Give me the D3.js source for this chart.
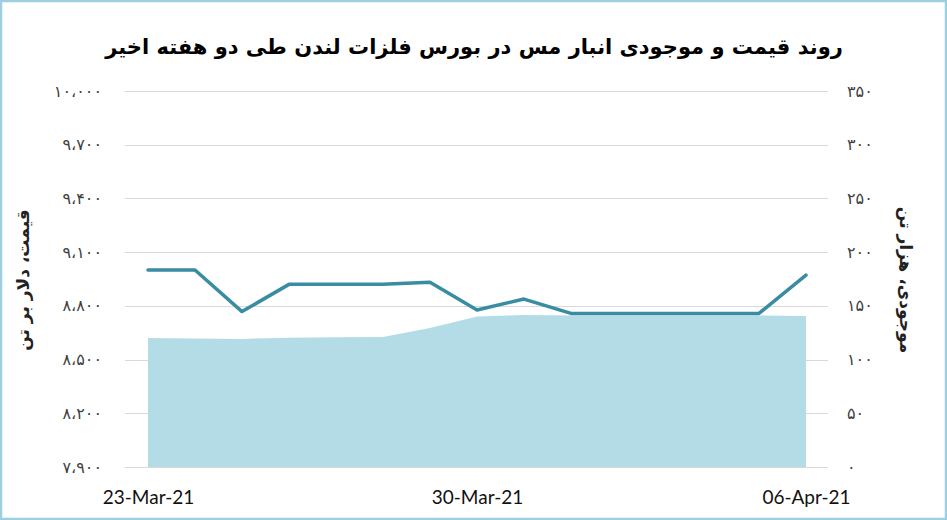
<!DOCTYPE html>
<html>
<head>
<meta charset="utf-8">
<script src="https://cdn.jsdelivr.net/npm/d3@7"></script>
<style>
  body { margin: 0; background: #fff; }
  svg { display: block; }
</style>
</head>
<body>
<div id="chart"></div>
<script>
// data
const dates = ['23-Mar-21', '24-Mar-21', '25-Mar-21', '26-Mar-21', '27-Mar-21', '28-Mar-21', '29-Mar-21',
  '30-Mar-21', '31-Mar-21', '01-Apr-21', '02-Apr-21', '03-Apr-21', '04-Apr-21', '05-Apr-21', '06-Apr-21'];
const price = [9000, 9000, 8768, 8920, 8920, 8920, 8932, 8777, 8838, 8758, 8758, 8758, 8758, 8758, 8972];
const stock = [120, 119.6, 119.2, 120.4, 120.7, 121, 129.4, 140, 141.5, 141, 141, 141, 141, 141, 140.5];
const xTicks = ['23-Mar-21', '30-Mar-21', '06-Apr-21'];
const priceTicks = [7900, 8200, 8500, 8800, 9100, 9400, 9700, 10000];
const stockTicks = [0, 50, 100, 150, 200, 250, 300, 350];

const title = 'روند قیمت و موجودی انبار مس در بورس فلزات لندن طی دو هفته اخیر';
const leftTitle = 'قیمت، دلار بر تن';
const rightTitle = 'موجودی، هزار تن';

const width = 947, height = 520;
const margin = { top: 91, bottom: 53, left: 148, right: 141 };

const fa = s => s.replace(/\d/g, d => '۰۱۲۳۴۵۶۷۸۹'[d]).replace(/,/g, '،');

const svg = d3.select('#chart').append('svg')
  .attr('width', width)
  .attr('height', height);

svg.append('rect')
  .attr('x', 1).attr('y', 1)
  .attr('width', width - 2).attr('height', height - 2)
  .attr('fill', '#fff')
  .attr('stroke', '#9ccfe0')
  .attr('stroke-width', 2.5);

const x = d3.scalePoint()
  .domain(dates)
  .range([margin.left, width - margin.right]);

const yL = d3.scaleLinear()
  .domain([7900, 10000])
  .range([height - margin.bottom, margin.top]);

const yR = d3.scaleLinear()
  .domain([0, 350])
  .range([height - margin.bottom, margin.top]);

const gridLeft = 125, gridRight = 828;

// gridlines
svg.append('g')
  .selectAll('line')
  .data(priceTicks)
  .join('line')
  .attr('x1', gridLeft).attr('x2', gridRight)
  .attr('y1', d => Math.round(yL(d)) + 0.5)
  .attr('y2', d => Math.round(yL(d)) + 0.5)
  .attr('stroke', '#d9d9d9')
  .attr('stroke-width', 1);

// area: stocks on right axis
svg.append('path')
  .datum(stock)
  .attr('fill', '#b4dce6')
  .attr('d', d3.area()
    .x((d, i) => x(dates[i]))
    .y0(yR(0))
    .y1(d => yR(d)));

// line: price on left axis
svg.append('path')
  .datum(price)
  .attr('fill', 'none')
  .attr('stroke', '#3a8ca2')
  .attr('stroke-width', 3.5)
  .attr('stroke-linejoin', 'round')
  .attr('stroke-linecap', 'round')
  .attr('d', d3.line()
    .x((d, i) => x(dates[i]))
    .y(d => yL(d)));

// left axis
const leftAxis = svg.append('g')
  .attr('transform', `translate(${gridLeft - 23}, 0)`)
  .call(d3.axisLeft(yL).tickValues(priceTicks).tickSize(0).tickPadding(0)
    .tickFormat(d => fa(d3.format(',')(d))));
leftAxis.select('.domain').remove();
leftAxis.selectAll('text')
  .attr('font-family', 'DejaVu Sans')
  .attr('font-size', 16)
  .attr('letter-spacing', 2.2)
  .attr('fill', '#404040');

// right axis
const rightAxis = svg.append('g')
  .attr('transform', `translate(${gridRight + 19}, 0)`)
  .call(d3.axisRight(yR).tickValues(stockTicks).tickSize(0).tickPadding(0)
    .tickFormat(d => fa(String(d))));
rightAxis.select('.domain').remove();
rightAxis.selectAll('text')
  .attr('font-family', 'DejaVu Sans')
  .attr('font-size', 16)
  .attr('letter-spacing', 2.2)
  .attr('fill', '#404040');

// x axis
const xAxis = svg.append('g')
  .attr('transform', `translate(0, ${height - margin.bottom})`)
  .call(d3.axisBottom(x).tickValues(xTicks).tickSize(0).tickPadding(24));
xAxis.select('.domain').remove();
xAxis.selectAll('text')
  .attr('font-family', 'Lato')
  .attr('font-size', 19)
  .attr('fill', '#111');

// titles
svg.append('text')
  .attr('x', 474).attr('y', 54)
  .attr('text-anchor', 'middle')
  .attr('direction', 'rtl')
  .attr('font-family', 'DejaVu Sans')
  .attr('font-weight', 'bold')
  .attr('font-size', 21)
  .attr('fill', '#000')
  .text(title);

svg.append('text')
  .attr('transform', 'translate(29, 280) rotate(-90)')
  .attr('text-anchor', 'middle')
  .attr('direction', 'rtl')
  .attr('font-family', 'DejaVu Sans')
  .attr('font-weight', 'bold')
  .attr('font-size', 17)
  .attr('fill', '#222')
  .text(leftTitle);

svg.append('text')
  .attr('transform', 'translate(900, 280) rotate(90)')
  .attr('text-anchor', 'middle')
  .attr('direction', 'rtl')
  .attr('font-family', 'DejaVu Sans')
  .attr('font-weight', 'bold')
  .attr('font-size', 17)
  .attr('fill', '#222')
  .text(rightTitle);
</script>
</body>
</html>
